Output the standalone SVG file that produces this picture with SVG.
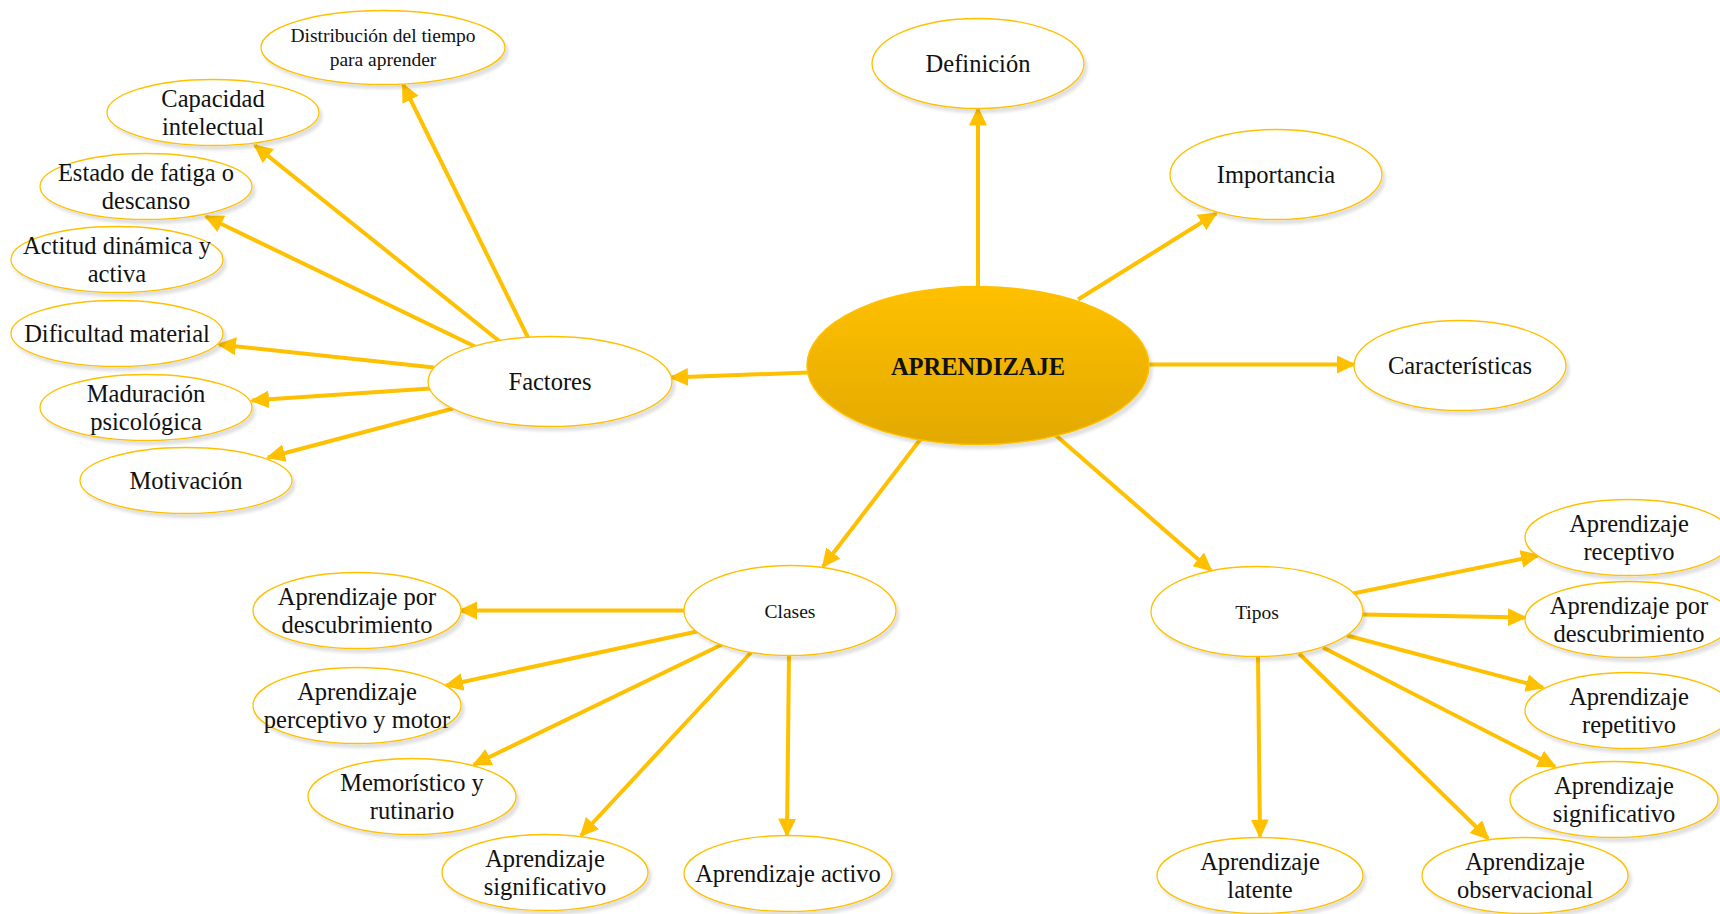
<svg xmlns="http://www.w3.org/2000/svg" width="1720" height="914" viewBox="0 0 1720 914">
<defs>
<linearGradient id="gold" x1="0" y1="0" x2="0" y2="1">
<stop offset="0" stop-color="#FFC000"/>
<stop offset="1" stop-color="#E2A900"/>
</linearGradient>
<filter id="sh" x="-10%" y="-10%" width="130%" height="140%">
<feDropShadow dx="3" dy="4" stdDeviation="1.5" flood-color="#000" flood-opacity="0.12"/>
</filter>
<marker id="ah" markerUnits="userSpaceOnUse" markerWidth="21" markerHeight="19" refX="17" refY="9" orient="auto">
<path d="M0,0 L19,9 L0,18 z" fill="#FFC000"/>
</marker>
</defs>
<style>
.n ellipse{fill:#fff;stroke:#FFC000;stroke-width:1.3;filter:url(#sh)}
.t{font-family:"Liberation Serif","Times New Roman",serif;font-size:24.5px;fill:#111;text-anchor:middle}
.s{font-size:19.5px}
.c line{stroke:#FFC000;stroke-width:4;marker-end:url(#ah)}
</style>
<rect width="1720" height="914" fill="#fff"/>
<g transform="translate(0,1.5)">
<g id="connectors" class="c">
<line x1="978" y1="287" x2="978" y2="107"/>
<line x1="1078" y1="298" x2="1216" y2="212"/>
<line x1="1149" y1="363" x2="1354" y2="363"/>
<line x1="808" y1="371" x2="671" y2="376"/>
<line x1="921" y1="437" x2="823" y2="565"/>
<line x1="1056" y1="434" x2="1211" y2="569"/>
<line x1="529" y1="338" x2="403" y2="83"/>
<line x1="501" y1="341" x2="255" y2="144"/>
<line x1="477" y1="346" x2="206" y2="215"/>
<line x1="434" y1="366" x2="219" y2="343"/>
<line x1="430" y1="387" x2="252" y2="399"/>
<line x1="453" y1="407" x2="268" y2="456"/>
<line x1="684" y1="609" x2="460" y2="609"/>
<line x1="697" y1="630" x2="446" y2="684"/>
<line x1="722" y1="643" x2="474" y2="763"/>
<line x1="751" y1="651" x2="581" y2="834"/>
<line x1="789" y1="654" x2="787" y2="834"/>
<line x1="1353" y1="592" x2="1538" y2="554"/>
<line x1="1363" y1="613" x2="1525" y2="616"/>
<line x1="1347" y1="634" x2="1543" y2="686"/>
<line x1="1323" y1="646" x2="1555" y2="765"/>
<line x1="1299" y1="652" x2="1488" y2="837"/>
<line x1="1258" y1="655" x2="1260" y2="835"/>
</g>
<g id="aprendizaje">
<ellipse cx="978" cy="364" rx="171" ry="79" fill="url(#gold)" stroke="#FFC000" stroke-width="1.5" filter="url(#sh)"/>
<text class="t" x="978" y="373" font-weight="bold">APRENDIZAJE</text>
</g>
<g id="definicion" class="n"><ellipse cx="978" cy="62" rx="106" ry="45"/><text class="t" x="978" y="70">Definición</text></g>
<g id="importancia" class="n"><ellipse cx="1276" cy="173" rx="106" ry="45"/><text class="t" x="1276" y="181">Importancia</text></g>
<g id="caracteristicas" class="n"><ellipse cx="1460" cy="364" rx="106" ry="45"/><text class="t" x="1460" y="372">Características</text></g>
<g id="factores" class="n"><ellipse cx="550" cy="380" rx="122" ry="45"/><text class="t" x="550" y="388">Factores</text></g>
<g id="distribucion" class="n"><ellipse cx="383" cy="46" rx="122" ry="37"/><text class="t s" x="383" y="40">Distribución del tiempo</text><text class="t s" x="383" y="64">para aprender</text></g>
<g id="capacidad" class="n"><ellipse cx="213" cy="111" rx="106" ry="33"/><text class="t" x="213" y="105">Capacidad</text><text class="t" x="213" y="133">intelectual</text></g>
<g id="estado" class="n"><ellipse cx="146" cy="185" rx="106" ry="33"/><text class="t" x="146" y="179">Estado de fatiga o</text><text class="t" x="146" y="207">descanso</text></g>
<g id="actitud" class="n"><ellipse cx="117" cy="258" rx="106" ry="33"/><text class="t" x="117" y="252">Actitud dinámica y</text><text class="t" x="117" y="280">activa</text></g>
<g id="dificultad" class="n"><ellipse cx="117" cy="332" rx="106" ry="33"/><text class="t" x="117" y="340">Dificultad material</text></g>
<g id="maduracion" class="n"><ellipse cx="146" cy="406" rx="106" ry="33"/><text class="t" x="146" y="400">Maduración</text><text class="t" x="146" y="428">psicológica</text></g>
<g id="motivacion" class="n"><ellipse cx="186" cy="479" rx="106" ry="33"/><text class="t" x="186" y="487">Motivación</text></g>
<g id="clases" class="n"><ellipse cx="790" cy="609" rx="106" ry="45"/><text class="t s" x="790" y="616">Clases</text></g>
<g id="desc-l" class="n"><ellipse cx="357" cy="609" rx="104" ry="38"/><text class="t" x="357" y="603">Aprendizaje por</text><text class="t" x="357" y="631">descubrimiento</text></g>
<g id="perceptivo" class="n"><ellipse cx="357" cy="704" rx="104" ry="38"/><text class="t" x="357" y="698">Aprendizaje</text><text class="t" x="357" y="726">perceptivo y motor</text></g>
<g id="memoristico" class="n"><ellipse cx="412" cy="795" rx="104" ry="38"/><text class="t" x="412" y="789">Memorístico y</text><text class="t" x="412" y="817">rutinario</text></g>
<g id="signif-l" class="n"><ellipse cx="545" cy="871" rx="103" ry="38"/><text class="t" x="545" y="865">Aprendizaje</text><text class="t" x="545" y="893">significativo</text></g>
<g id="activo" class="n"><ellipse cx="788" cy="872" rx="104" ry="38"/><text class="t" x="788" y="880">Aprendizaje activo</text></g>
<g id="tipos" class="n"><ellipse cx="1257" cy="610" rx="106" ry="45"/><text class="t s" x="1257" y="617">Tipos</text></g>
<g id="receptivo" class="n"><ellipse cx="1629" cy="536" rx="104" ry="38"/><text class="t" x="1629" y="530">Aprendizaje</text><text class="t" x="1629" y="558">receptivo</text></g>
<g id="desc-r" class="n"><ellipse cx="1629" cy="618" rx="104" ry="38"/><text class="t" x="1629" y="612">Aprendizaje por</text><text class="t" x="1629" y="640">descubrimiento</text></g>
<g id="repetitivo" class="n"><ellipse cx="1629" cy="709" rx="104" ry="38"/><text class="t" x="1629" y="703">Aprendizaje</text><text class="t" x="1629" y="731">repetitivo</text></g>
<g id="signif-r" class="n"><ellipse cx="1614" cy="798" rx="104" ry="38"/><text class="t" x="1614" y="792">Aprendizaje</text><text class="t" x="1614" y="820">significativo</text></g>
<g id="latente" class="n"><ellipse cx="1260" cy="874" rx="103" ry="38"/><text class="t" x="1260" y="868">Aprendizaje</text><text class="t" x="1260" y="896">latente</text></g>
<g id="observacional" class="n"><ellipse cx="1525" cy="874" rx="103" ry="38"/><text class="t" x="1525" y="868">Aprendizaje</text><text class="t" x="1525" y="896">observacional</text></g>
</g>
</svg>
